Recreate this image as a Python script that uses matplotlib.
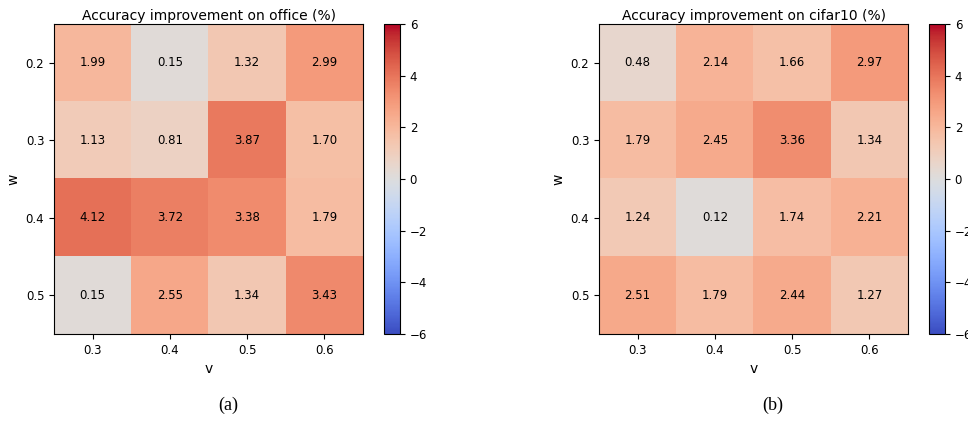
import numpy as np
import matplotlib
matplotlib.use("Agg")
import matplotlib.pyplot as plt

# grid values
v_vals = ["0.3", "0.4", "0.5", "0.6"]
w_vals = ["0.2", "0.3", "0.4", "0.5"]

office = [[1.99, 0.15, 1.32, 2.99],
          [1.13, 0.81, 3.87, 1.70],
          [4.12, 3.72, 3.38, 1.79],
          [0.15, 2.55, 1.34, 3.43]]

cifar10 = [[0.48, 2.14, 1.66, 2.97],
           [1.79, 2.45, 3.36, 1.34],
           [1.24, 0.12, 1.74, 2.21],
           [2.51, 1.79, 2.44, 1.27]]

panels = [("office", office, "(a)"), ("cifar10", cifar10, "(b)")]

fig = plt.figure(figsize=(9.68, 4.22), dpi=100)
W, H = 968.0, 422.0

ax_left = [54, 599]
cb_left = [384, 929]
top, bottom = 24, 334

for i, (name, data, cap) in enumerate(panels):
    data = np.array(data)
    ax = fig.add_axes([ax_left[i] / W, (H - bottom) / H, 309 / W, (bottom - top) / H])
    cax = fig.add_axes([cb_left[i] / W, (H - bottom) / H, 16 / W, (bottom - top) / H])
    im = ax.imshow(data, cmap="coolwarm", vmin=-6, vmax=6, aspect="auto")
    for r in range(data.shape[0]):
        for c in range(data.shape[1]):
            ax.text(c, r, "%.2f" % data[r, c], ha="center", va="center", fontsize=8.5, color="black")
    ax.set_xticks(range(len(v_vals)))
    ax.set_xticklabels(v_vals, fontsize=8.5)
    ax.set_yticks(range(len(w_vals)))
    ax.set_yticklabels(w_vals, fontsize=8.5)
    ax.set_xlabel("v", fontsize=10)
    ax.set_ylabel("w", fontsize=10)
    ax.set_title("Accuracy improvement on %s (%%)" % name, fontsize=10, pad=3)
    cb = fig.colorbar(im, cax=cax, ticks=[-6, -4, -2, 0, 2, 4, 6])
    cb.ax.tick_params(labelsize=8.5)
    fig.text((ax_left[i] + 174) / W, (H - 405) / H, cap, ha="center", va="center",
             fontsize=13, family="Liberation Serif")

fig.savefig("out.png", dpi=100)
